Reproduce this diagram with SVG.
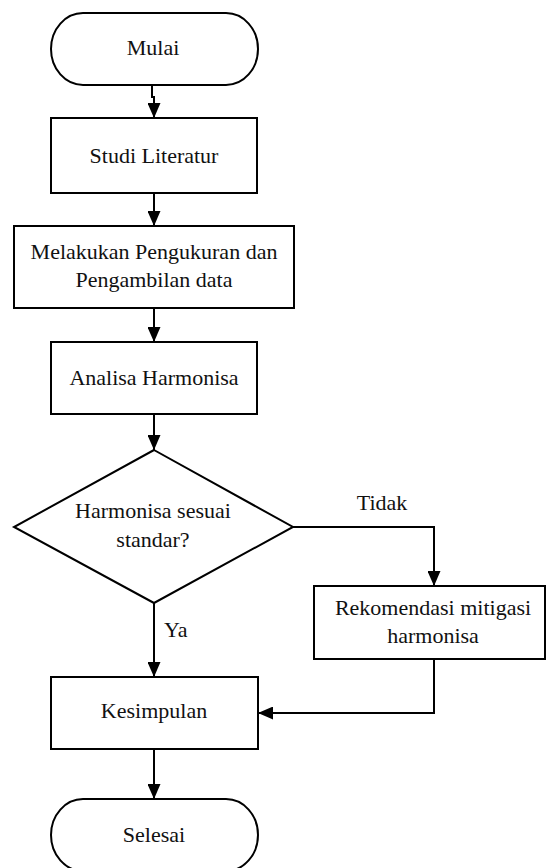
<svg xmlns="http://www.w3.org/2000/svg" width="547" height="868" viewBox="0 0 547 868">
<style>
.shape{fill:#fff;stroke:#000;stroke-width:2}
.conn{fill:none;stroke:#000;stroke-width:2}
text{font-family:"Liberation Serif","Times New Roman",serif;font-size:22px;fill:#111}
.c{text-anchor:middle}
</style>
<defs>
<marker id="ah" markerUnits="userSpaceOnUse" markerWidth="15" markerHeight="13" refX="15" refY="6.5" orient="auto">
<path d="M0,0 L15,6.5 L0,13 z" fill="#000"/>
</marker>
</defs>
<rect width="547" height="868" fill="#fff"/>
<g id="connectors">
<path class="conn" d="M152,85 V97 H154 V118" marker-end="url(#ah)"/>
<path class="conn" d="M154,193 V226" marker-end="url(#ah)"/>
<path class="conn" d="M154,308 V342" marker-end="url(#ah)"/>
<path class="conn" d="M154,414 V450" marker-end="url(#ah)"/>
<path class="conn" d="M293,527 H434 V586" marker-end="url(#ah)"/>
<path class="conn" d="M154,603 V677" marker-end="url(#ah)"/>
<path class="conn" d="M434,659 V713 H258" marker-end="url(#ah)"/>
<path class="conn" d="M154,749 V799" marker-end="url(#ah)"/>
<text x="382" y="510" class="c">Tidak</text>
<text x="164" y="637">Ya</text>
</g>
<g id="mulai">
<rect class="shape" x="51" y="13" width="207" height="72" rx="32" ry="36"/>
<text x="153" y="55" class="c">Mulai</text>
</g>
<g id="studi">
<rect class="shape" x="51" y="118" width="206" height="75"/>
<text x="154" y="163" class="c">Studi Literatur</text>
</g>
<g id="pengukuran">
<rect class="shape" x="14" y="226" width="280" height="82"/>
<text x="154" y="259" class="c">Melakukan Pengukuran dan</text>
<text x="154" y="287" class="c">Pengambilan data</text>
</g>
<g id="analisa">
<rect class="shape" x="51" y="342" width="206" height="72"/>
<text x="154" y="385" class="c">Analisa Harmonisa</text>
</g>
<g id="keputusan">
<polygon class="shape" points="154,450 293,527 154,603 14,527"/>
<text x="153" y="518" class="c">Harmonisa sesuai</text>
<text x="153" y="547" class="c">standar?</text>
</g>
<g id="rekomendasi">
<rect class="shape" x="314" y="586" width="231" height="73"/>
<text x="433" y="615" class="c">Rekomendasi mitigasi</text>
<text x="433" y="643" class="c">harmonisa</text>
</g>
<g id="kesimpulan">
<rect class="shape" x="51" y="677" width="207" height="72"/>
<text x="154" y="718" class="c">Kesimpulan</text>
</g>
<g id="selesai">
<rect class="shape" x="51" y="799" width="207" height="72" rx="32" ry="36"/>
<text x="154" y="842" class="c">Selesai</text>
</g>
</svg>
